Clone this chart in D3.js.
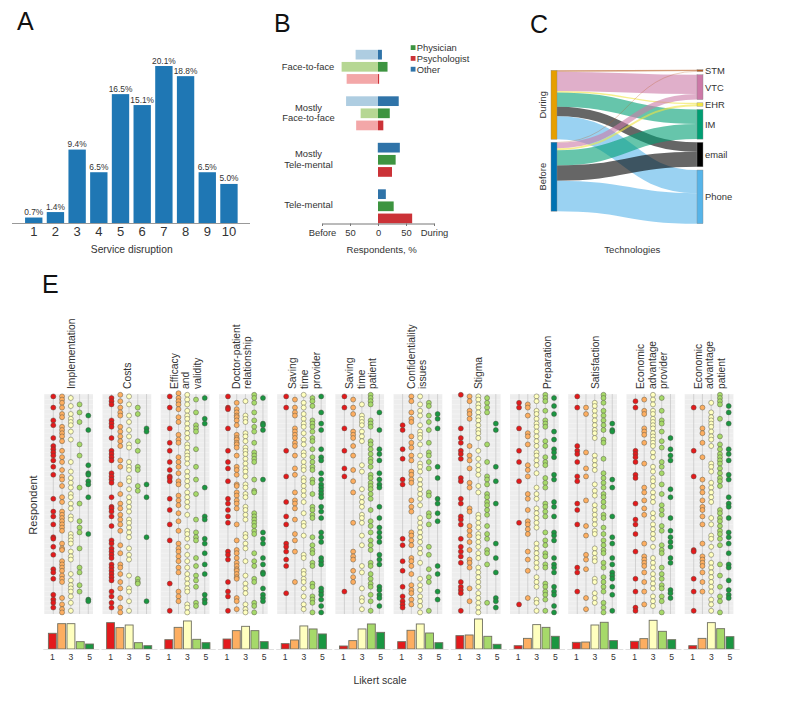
<!DOCTYPE html>
<html><head><meta charset="utf-8"><title>Tele-mental health survey</title>
<style>html,body{margin:0;padding:0;background:#fff}svg{display:block}text{font-family:"Liberation Sans",Arial,sans-serif;fill:#333}</style>
<script src="https://cdn.jsdelivr.net/npm/d3@7"></script></head><body><svg id="c" width="800" height="719"></svg>
<script>
// ---------- Panel A ----------
const disruptionLevels=[1,2,3,4,5,6,7,8,9,10];
const disruptionShare=[0.7,1.4,9.4,6.5,16.5,15.1,20.1,18.8,6.5,5.0];
// ---------- Panel B ----------
const modeCategories=["Face-to-face","Mostly Face-to-face","Mostly Tele-mental","Tele-mental"];
const professions=["Other","Physician","Psychologist"];
const legendOrder=["Physician","Psychologist","Other"];
const beforeOther=[40,57,1,0];
const beforePhysician=[65,31,0,0];
const beforePsychologist=[56,39,0,0];
const duringOther=[7,37,39,14];
const duringPhysician=[17,21,31.5,28];
const duringPsychologist=[2,9.5,25,61];
// ---------- Panel C ----------
const techNames=["STM","VTC","EHR","IM","email","Phone"];
const periodNames=["During","Before"];
const techDuring=[2,28,2,21,13.5,33.5];
const techBefore=[0.7,8,3,22,22,44.3];
// ---------- Panel E ----------
const likertLevels=[1,2,3,4,5];
const likertTickLabels=[1,3,5];
const itemTitles=[["Implementation"],["Costs"],["Efficacy","and","validity"],["Doctor-patient","relationship"],["Saving","time","provider"],["Saving","time","patient"],["Confidentiality","issues"],["Stigma"],["Preparation"],["Satisfaction"],["Economic","advantage","provider"],["Economic","advantage","patient"]];
const shareImplementation=[21.4,34.5,34.5,10,6.8];
const shareCosts=[35.9,29.1,32.7,8.6,4.5];
const shareEfficacy=[12.7,29.5,38.2,13.2,8.6];
const shareDoctor=[13.6,25,30.9,25,10];
const shareTimeProvider=[7.3,12.3,31.4,27.3,20.5];
const shareTimePatient=[4.1,11.4,27.3,34.1,22.7];
const shareConfidentiality=[10,25.5,34.1,21.8,8.6];
const shareStigma=[18.2,19.1,40.9,17.3,6.4];
const sharePreparation=[4.5,14.5,33.2,29.5,17.3];
const shareSatisfaction=[9.1,9.5,32.7,36.4,11.4];
const shareEconProvider=[10.5,14.1,39.1,24.1,12.7];
const shareEconPatient=[4.5,14.5,35.9,27.7,16.8];
// respondent rank answering each Likert level, per item
const rowsImplementation=[
[4,11,19,22,30,35,37,39,41,44,48,53,68,76,79,84,92,93,98,103,112,114,118,128,131,133,136],
[4,6,8,11,15,17,23,25,27,29,32,38,42,45,50,54,56,60,67,70,76,78,80,82,84,86,88,96,99,100,107,109,111,113,116,118,120,130,134,137,139],
[5,10,15,18,20,22,26,31,45,51,55,58,61,65,67,71,74,79,81,90,92,94,96,101,104,106,115,119,122,124,126,129,133,138],
[9,14,20,34,41,61,71,82,86,89,99,111,114,122,126],
[16,25,47,52,53,57,59,67,90,131,132]];
const rowsCosts=[
[5,7,9,19,21,23,30,38,40,42,44,52,54,56,58,67,73,74,76,79,85,94,96,99,101,103,105,109,111,113,115,117,119,126,129,133,136],
[3,7,11,14,16,23,26,29,32,35,44,48,59,65,71,74,78,81,84,88,97,102,109,111,115,120,124,130,136,139],
[4,9,16,20,25,29,34,36,45,48,50,55,57,62,67,70,73,76,81,83,86,89,92,99,103,106,116,124,126,132,138],
[11,15,32,38,48,50,60,63,118,120,121],
[24,26,59,67,92,132]];
const rowsEfficacy=[
[4,11,24,33,38,45,50,54,55,57,68,75,84,94,121,138],
[2,5,7,9,12,17,20,28,31,33,42,45,48,52,57,59,66,69,72,77,82,88,96,99,101,104,107,111,114,126,129,132],
[3,6,9,13,16,18,21,24,27,30,34,36,39,41,43,46,51,54,57,60,64,67,70,73,78,88,90,93,98,103,107,111,115,118,121,124,126,134,136,139],
[6,14,22,24,26,37,48,56,65,81,89,92,94,105,110,116,119,123,133,135],
[5,18,21,61,79,81,93,96,102,109,115,128,131,133]];
const rowsDoctor=[
[4,11,12,24,38,45,49,57,68,71,75,79,83,101,103,106,120,126,129,138],
[8,12,14,16,17,19,22,28,30,31,33,34,36,41,48,50,53,59,60,64,66,69,71,74,84,94,100,102,105,108,110,112,113,115,117,118,130,132,137],
[7,16,18,20,27,29,32,36,38,40,43,46,49,51,54,59,61,65,67,73,75,78,81,90,92,96,99,107,116,121,124,127,134,137,139],
[3,5,8,14,19,23,26,33,39,41,43,45,56,63,64,77,79,81,83,85,88,90,102,107,110,118,120,133,135,139],
[5,21,22,25,56,89,93,96,105,109,114,115,124,128,130,132]];
const rowsTimeProvider=[
[4,11,38,54,70,79,84,96,98,101,106,110,127],
[6,11,14,16,24,26,28,30,33,35,41,49,53,64,69,71,74,81,90,94,101,120],
[3,8,11,15,18,21,23,27,31,34,39,41,45,48,50,55,57,60,63,66,70,77,83,85,91,103,105,113,115,118,120,124,129,134,137],
[5,7,10,19,21,23,26,30,32,37,42,45,48,50,56,58,65,73,75,78,80,92,97,100,102,108,110,121,123,129,131,133,139],
[4,14,21,25,37,42,44,52,56,59,61,63,65,67,73,76,80,89,92,95,105,107,109,124,126,128,131,135,139]];
const rowsTimePatient=[
[4,11,24,38,49,54,126],
[6,11,15,26,28,30,35,41,50,57,64,83,101,104,106,113,117,120],
[9,16,18,20,22,26,29,32,47,51,62,67,70,73,78,80,83,91,97,110,114,124,130,132,137],
[3,5,7,9,19,21,23,32,34,37,40,43,45,48,53,55,58,60,62,65,68,75,82,85,89,94,97,100,108,110,115,118,121,123,128,132,138],
[14,25,37,40,44,52,56,59,61,73,80,86,89,92,95,103,106,109,123,125,128,130,135]];
const rowsConfidentiality=[
[22,25,37,43,56,59,93,97,107,113,123,129,132,134,136],
[4,7,14,18,20,29,33,36,41,44,51,53,56,58,69,73,76,89,91,94,97,105,107,110,115,122,125,127,131,134],
[4,9,13,16,22,26,28,30,34,41,46,48,51,56,59,62,65,68,72,80,83,86,89,92,95,99,102,108,118,122,125,129,132,135,139],
[8,10,16,20,25,33,39,41,45,49,64,66,77,79,84,98,103,112,117,120,138],
[15,18,24,48,55,68,71,77,82,110,115,126,131]];
const rowsStigma=[
[3,24,30,33,38,40,43,55,57,68,71,79,81,84,93,98,101,104,108,120,123,125,127,138],
[4,7,13,15,18,35,41,44,49,58,61,74,76,85,88,91,95,100,106,108,111,124,132],
[4,6,9,11,14,17,19,22,25,27,30,38,43,47,50,53,60,64,78,80,83,86,90,92,95,98,102,105,111,114,117,120,123,127,130,133,136,139],
[5,8,11,14,34,45,54,56,59,65,67,70,72,75,78,85,90,93,100,102,109,133],
[21,25,48,57,71,96,105,114,130,132,136]];
const rowsPreparation=[
[8,11,24,38,45,57,83,134],
[9,11,16,27,29,34,47,50,54,65,68,75,82,84,87,90,101,106,113,130],
[4,7,13,15,18,21,23,26,29,32,35,39,41,44,47,52,61,65,68,74,77,80,83,86,96,99,102,105,108,111,117,120,123,131,133,138],
[3,5,7,13,19,21,23,32,35,42,45,47,55,58,61,71,73,76,79,89,94,97,102,104,109,111,121,123,126,128,131,138],
[5,10,15,26,31,37,39,42,53,56,70,73,79,89,91,94,105,109,111,114,123,126,128,135,139]];
const rowsSatisfaction=[
[4,11,35,38,40,45,54,57,71,75,84,111,114,126],
[11,15,39,49,54,69,85,91,103,106,112,130,137],
[8,10,13,16,19,22,25,27,30,41,44,47,50,59,63,66,72,75,78,81,84,88,90,99,102,105,107,118,120,127,130,133],
[3,5,8,13,16,19,22,25,31,33,43,52,55,58,61,65,67,70,73,78,80,86,90,94,97,100,102,108,111,117,120,123,126,133,136,139],
[21,25,26,56,61,79,92,96,105,109,114,116,118,123,128,138]];
const rowsEconProvider=[
[7,11,38,40,42,45,53,55,71,81,84,90,101,118,126,136,138],
[6,13,15,24,26,28,33,46,61,64,69,74,78,96,104,106,108,110,114,120,126,134],
[3,6,9,13,15,18,20,22,24,27,29,31,33,35,39,42,48,51,55,57,60,64,67,70,77,80,84,87,90,93,98,105,108,111,115,118,121,124,129,132,135],
[5,13,19,21,26,32,36,45,48,52,59,65,72,75,78,85,88,97,100,102,111,115,118,122,124,129,132,139],
[30,37,41,44,62,67,80,88,92,95,98,105,108,125,127,130]];
const rowsEconPatient=[
[11,38,54,100,101,118,126,138],
[11,24,27,33,42,56,61,64,69,73,75,79,84,96,104,106,108,110,114,120,126],
[8,14,17,19,21,23,26,29,31,35,46,48,51,58,61,64,67,70,80,84,91,93,98,103,108,111,114,117,120,123,126,131,134,138],
[3,5,7,9,18,29,34,37,40,42,44,46,49,52,55,57,60,75,77,80,82,85,88,90,93,97,109,116,123,129,132,139],
[10,14,21,37,40,44,53,56,67,71,73,80,89,92,96,102,109,111,119,125,128,130]];

const itemRows=[rowsImplementation,rowsCosts,rowsEfficacy,rowsDoctor,rowsTimeProvider,rowsTimePatient,rowsConfidentiality,rowsStigma,rowsPreparation,rowsSatisfaction,rowsEconProvider,rowsEconPatient];
const itemShares=[shareImplementation,shareCosts,shareEfficacy,shareDoctor,shareTimeProvider,shareTimePatient,shareConfidentiality,shareStigma,sharePreparation,shareSatisfaction,shareEconProvider,shareEconPatient];

const svg=d3.select("#c");
function label(x,y,t,size,anchor,rot){
  const s=svg.append("text").attr("font-size",size).attr("text-anchor",anchor||"middle").attr("dominant-baseline","central").text(t);
  if(rot) s.attr("transform",`translate(${x},${y}) rotate(-90)`); else s.attr("x",x).attr("y",y);
  return s;
}
[["A",17,30],["B",274,32],["C",530,33],["E",42,293]].forEach(d=>{
  svg.append("text").attr("x",d[1]).attr("y",d[2]).attr("font-size",25).style("fill","#111").text(d[0]);
});

// ===== A =====
{
  const x=d3.scaleBand().domain(disruptionLevels).range([22.9,239.8]).paddingInner(.2).paddingOuter(.1);
  const y=d3.scaleLinear().domain([0,20.1]).range([223,66]);
  const g=svg.append("g");
  g.selectAll("rect").data(disruptionLevels).join("rect").attr("x",d=>x(d)).attr("width",x.bandwidth())
    .attr("y",(d,i)=>y(disruptionShare[i])).attr("height",(d,i)=>223-y(disruptionShare[i])).attr("fill","#1f77b4");
  g.selectAll("text").data(disruptionLevels).join("text").attr("x",d=>x(d)+x.bandwidth()/2).attr("y",(d,i)=>y(disruptionShare[i])-2.5)
    .attr("text-anchor","middle").attr("font-size",8.4).text((d,i)=>disruptionShare[i].toFixed(1)+"%");
  const ax=svg.append("g").attr("transform","translate(0,223.5)").call(d3.axisBottom(x).tickSize(0).tickPadding(3));
  ax.select("path").attr("d","M12,0H250").attr("stroke","#999");
  ax.selectAll("text").attr("font-size",13).style("font-family",'"Liberation Sans"').style("fill","#333");
  label(131.7,249.7,"Service disruption",10.3);
}
// ===== B =====
{
  const colors={Other:["#aecde1","#2f73a8"],Physician:["#b6d793","#3d9440"],Psychologist:["#f3a7a8","#cb3237"]};
  const before={Other:beforeOther,Physician:beforePhysician,Psychologist:beforePsychologist};
  const during={Other:duringOther,Physician:duringPhysician,Psychologist:duringPsychologist};
  const x=d3.scaleLinear().domain([-100,100]).range([322,434]);
  const rowY=d3.scaleBand().domain(professions).range([0,36.4]).paddingInner(.2).paddingOuter(.1);
  modeCategories.forEach((c,ci)=>{
    const top=48.6+ci*46.5;
    professions.forEach(p=>{
      svg.append("rect").attr("x",x(-before[p][ci])).attr("width",x(0)-x(-before[p][ci])).attr("y",top+rowY(p)).attr("height",rowY.bandwidth()).attr("fill",colors[p][0]);
      svg.append("rect").attr("x",x(0)).attr("width",x(during[p][ci])-x(0)).attr("y",top+rowY(p)).attr("height",rowY.bandwidth()).attr("fill",colors[p][1]);
    });
  });
  label(308,66.7,"Face-to-face",9.4);
  label(308.5,107,"Mostly",9.4); label(308.5,117.7,"Face-to-face",9.4);
  label(308.5,153.7,"Mostly",9.4); label(308.5,164.3,"Tele-mental",9.4);
  label(308.5,204,"Tele-mental",9.4);
  const ax=svg.append("g").attr("transform","translate(0,223.5)").call(d3.axisBottom(x).tickValues([-100,-50,0,50,100]).tickSize(2.5).tickPadding(3).tickFormat(d=>d==-100?"Before":d==100?"During":Math.abs(d)));
  ax.select("path").attr("stroke","#777");
  ax.selectAll("line").attr("stroke","#777");
  ax.selectAll("text").attr("font-size",9.4).style("font-family",'"Liberation Sans"').style("fill","#333");
  label(381.7,249,"Respondents, %",9.6);
  legendOrder.forEach((p,i)=>{
    svg.append("rect").attr("x",410.7).attr("y",45.2+i*10.8).attr("width",4.8).attr("height",4.8).attr("fill",colors[p][1]);
    label(416.7,47.7+i*10.8,p,9.4,"start");
  });
}
// ===== C =====
{
  const techColors=["#b5591d","#cc79a7","#f0e442","#009e73","#000000","#56b4e9"];
  const periodColors=["#e69f00","#0072b2"];
  const h=d3.scaleLinear().domain([0,100]).range([0,69]);
  const series=[techDuring,techBefore];
  const leftTop=[70.3,142.2];
  const rightPad=3.2;
  let ry=69.7; const rightStart=[],rightH=[];
  techNames.forEach((t,i)=>{rightStart.push(ry);const v=h(techDuring[i])+h(techBefore[i]);rightH.push(v);ry+=v+rightPad;});
  const links=[];
  const cursor=[...rightStart];
  series.forEach((vals,s)=>{
    let ly=leftTop[s];
    vals.forEach((v,i)=>{
      const w=h(v);
      links.push({s,i,w,y0:ly+w/2,y1:null});
      ly+=w;
    });
  });
  links.forEach(l=>{l.y1=cursor[l.i]+l.w/2;cursor[l.i]+=l.w;});
  const x0=557,x1=697;
  const path=d3.linkHorizontal().x(d=>d[0]).y(d=>d[1]);
  svg.append("g").selectAll("path").data(links).join("path")
    .attr("d",l=>path({source:[x0,l.y0],target:[x1,l.y1]})).attr("fill","none")
    .attr("stroke",l=>techColors[l.i]).attr("stroke-opacity",.6).attr("stroke-width",l=>l.w);
  periodNames.forEach((p,i)=>{
    svg.append("rect").attr("x",551).attr("y",leftTop[i]).attr("width",6).attr("height",h(d3.sum(series[i]))).attr("fill",periodColors[i]).attr("stroke","#888").attr("stroke-width",.4);
    label(542,leftTop[i]+h(100)/2,p,9.4,"middle",true);
  });
  techNames.forEach((t,i)=>{
    svg.append("rect").attr("x",697).attr("y",rightStart[i]).attr("width",6).attr("height",rightH[i]).attr("fill",techColors[i]).attr("stroke","#888").attr("stroke-width",.4);
    label(705,rightStart[i]+rightH[i]/2,t,9.4,"start");
  });
  label(632.3,249.7,"Technologies",9.6);
}
// ===== E =====
{
  const likertColors=["#e31a1c","#fdae61","#ffffbf","#a6d96a","#1a9641"];
  const titleOffsets=[[26.7],[25.3],[13.3,25,37],[17.4,29],[15.7,27,39.4],[14,25.7,37.3],[17.7,29.3],[26.3],[37.7],[27],[14,26.3,37.3],[13.3,25,36.7]];
  const panelX=d3.scaleLinear().domain([0,11]).range([44.3,684.7]);
  const y=d3.scaleLinear().domain([2.5,140]).range([394,614]);
  const likertX=d3.scaleLinear().domain([1,5]).range([9,44]);
  const barX=d3.scaleBand().domain(likertLevels).range([3.4,49.9]).paddingInner(.15).paddingOuter(.075);
  const barY=d3.scaleLinear().domain([0,50]).range([649,612.3]);
  const stripes=d3.range(3,140,3);
  itemTitles.forEach((lines,k)=>{
    const g=svg.append("g").attr("transform",`translate(${panelX(k)},0)`);
    g.append("rect").attr("x",0).attr("y",394).attr("width",48.7).attr("height",220).attr("fill","#ededed");
    g.selectAll("line.h").data(stripes).join("line").attr("class","h").attr("x1",0).attr("x2",48.7).attr("y1",d=>y(d)).attr("y2",d=>y(d)).attr("stroke","#fff").attr("stroke-opacity",.55).attr("stroke-width",.6);
    g.selectAll("line.v").data(likertLevels).join("line").attr("class","v").attr("x1",d=>likertX(d)).attr("x2",d=>likertX(d)).attr("y1",394).attr("y2",614).attr("stroke","#c4c4c4").attr("stroke-width",.7);
    itemRows[k].forEach((rows,li)=>{
      g.append("g").selectAll("circle").data(rows).join("circle").attr("cx",likertX(li+1)).attr("cy",d=>y(d)).attr("r",2.5)
        .attr("fill",likertColors[li]).attr("stroke","#4f4f42").attr("stroke-opacity",.8).attr("stroke-width",.55);
    });
    g.selectAll("rect.b").data(likertLevels).join("rect").attr("class","b").attr("x",d=>barX(d)).attr("width",barX.bandwidth())
      .attr("y",d=>barY(itemShares[k][d-1])).attr("height",d=>649-barY(itemShares[k][d-1])).attr("fill",d=>likertColors[d-1]).attr("stroke","#6f6f60").attr("stroke-width",.9);
    g.append("line").attr("x1",-1).attr("x2",55).attr("y1",649.5).attr("y2",649.5).attr("stroke","#ddd").attr("stroke-width",.9);
    g.selectAll("text.t").data(likertTickLabels).join("text").attr("class","t").attr("x",d=>barX(d)+barX.bandwidth()/2).attr("y",657).attr("dominant-baseline","central")
      .attr("text-anchor","middle").attr("font-size",8.6).text(d=>d);
    lines.forEach((t,i)=>{
      g.append("text").attr("transform",`translate(${titleOffsets[k][i]},389) rotate(-90)`).attr("dominant-baseline","central").attr("font-size",10.3).text(t);
    });
  });
  label(33,505,"Respondent",11,"middle",true);
  label(380,680,"Likert scale",10.5);
}
</script></body></html>
